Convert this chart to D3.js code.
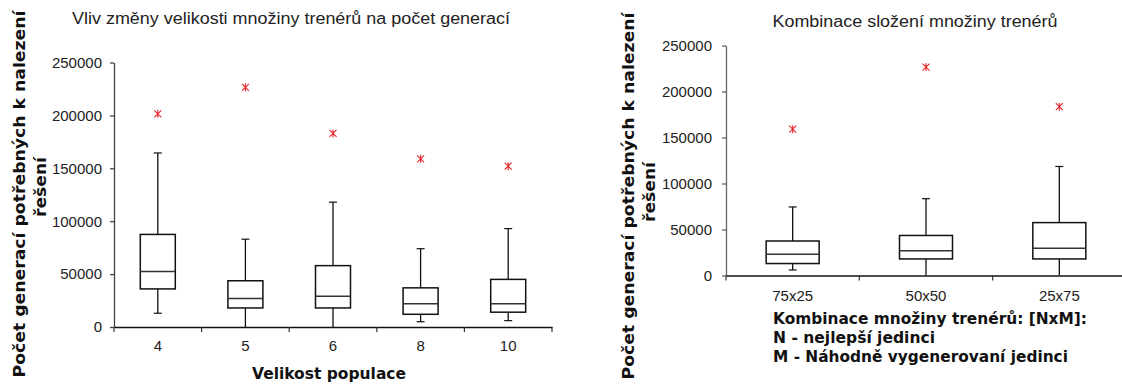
<!DOCTYPE html>
<html>
<head>
<meta charset="utf-8">
<script src="https://cdn.jsdelivr.net/npm/d3@7"></script>
<style>
  body { margin: 0; background: #fff; }
  text { font-family: "Liberation Sans", Arial, sans-serif; fill: #222; }
  .title { font-size: 16px; }
  .tick text { font-size: 15px; }
  .label { font-family: "DejaVu Sans", sans-serif; font-size: 16px; font-weight: bold; fill: #111; }
</style>
</head>
<body>
<script>
// left chart - velikost populace
const popCategories = ['4', '5', '6', '8', '10'];
const popMin = [13000, 0, 0, 5000, 6000];
const popQ1 = [36000, 18000, 18000, 12000, 14000];
const popMedian = [52500, 27000, 29000, 22000, 22000];
const popQ3 = [87500, 43700, 58000, 37000, 45000];
const popMax = [164500, 83000, 118000, 74000, 93000];
const popOutlier = [201500, 226500, 183000, 159000, 152000];

// right chart - kombinace NxM
const mixCategories = ['75x25', '50x50', '25x75'];
const mixMin = [6000, 0, 0];
const mixQ1 = [13000, 18000, 18000];
const mixMedian = [23000, 27000, 29500];
const mixQ3 = [37500, 43500, 57500];
const mixMax = [74500, 83500, 118500];
const mixOutlier = [159000, 226500, 183500];

const yTicks = [0, 50000, 100000, 150000, 200000, 250000];

const svg = d3.select('body').append('svg')
    .attr('width', 1122)
    .attr('height', 385);

function boxChart(opt) {
    const x = d3.scaleBand().domain(opt.cats).range([opt.x0, opt.x1]);
    const y = d3.scaleLinear().domain([0, 250000]).range([opt.y0, opt.y1]);
    const g = svg.append('g');

    const yAxis = g.append('g')
        .attr('transform', `translate(${opt.x0},0)`)
        .call(d3.axisLeft(y).tickValues(yTicks).tickSize(4).tickSizeOuter(0).tickFormat(d3.format('d')));
    yAxis.selectAll('line, path').attr('stroke', opt.axisColor).attr('stroke-width', 1.3);
    yAxis.selectAll('text').attr('x', -opt.labelGap).attr('fill', '#222');

    const xAxis = g.append('g')
        .attr('transform', `translate(0,${opt.y0})`)
        .call(d3.axisBottom(x).tickSize(0).tickPadding(opt.tickPad));
    xAxis.select('path').attr('stroke', '#111').attr('stroke-width', 1.5);
    xAxis.selectAll('text').attr('fill', '#222');
    // tick marks sit between the categories
    const bounds = opt.cats.map(c => x(c)).concat([opt.x1]);
    g.selectAll('.sep').data(bounds).enter().append('line')
        .attr('x1', d => d).attr('x2', d => d)
        .attr('y1', opt.y0).attr('y2', opt.y0 + 5)
        .attr('stroke', '#333').attr('stroke-width', 1.2);

    const bw = opt.boxWidth;
    opt.cats.forEach((c, i) => {
        const cx = x(c) + x.bandwidth() / 2;
        // whiskers
        g.append('line').attr('x1', cx).attr('x2', cx)
            .attr('y1', y(opt.max[i])).attr('y2', y(opt.q3[i]))
            .attr('stroke', '#111').attr('stroke-width', 1.3);
        g.append('line').attr('x1', cx).attr('x2', cx)
            .attr('y1', y(opt.q1[i])).attr('y2', y(opt.min[i]))
            .attr('stroke', '#111').attr('stroke-width', 1.3);
        g.append('line').attr('x1', cx - 4).attr('x2', cx + 4)
            .attr('y1', y(opt.max[i])).attr('y2', y(opt.max[i]))
            .attr('stroke', '#111').attr('stroke-width', 1.2);
        if (opt.min[i] > 0) {
            g.append('line').attr('x1', cx - 4).attr('x2', cx + 4)
                .attr('y1', y(opt.min[i])).attr('y2', y(opt.min[i]))
                .attr('stroke', '#111').attr('stroke-width', 1.2);
        }
        // box
        g.append('rect')
            .attr('x', cx - bw / 2).attr('y', y(opt.q3[i]))
            .attr('width', bw).attr('height', y(opt.q1[i]) - y(opt.q3[i]))
            .attr('fill', 'none').attr('stroke', '#111').attr('stroke-width', 1.5);
        g.append('line').attr('x1', cx - bw / 2).attr('x2', cx + bw / 2)
            .attr('y1', y(opt.median[i])).attr('y2', y(opt.median[i]))
            .attr('stroke', '#333').attr('stroke-width', 1.5);
        // outlier asterisk
        const oy = y(opt.outlier[i]);
        const s = 3.5;
        g.append('path')
            .attr('d', `M${cx - s},${oy - s}L${cx + s},${oy + s}M${cx - s},${oy + s}L${cx + s},${oy - s}M${cx},${oy - s - 0.5}L${cx},${oy + s + 0.5}`)
            .attr('stroke', '#e8262b').attr('stroke-width', 1.1).attr('fill', 'none');
    });

    g.append('text').attr('class', 'title')
        .text(opt.title)
        .attr('x', opt.titleX).attr('y', opt.titleY)
        .attr('text-anchor', 'middle')
        .attr('textLength', opt.titleLen)
        .attr('lengthAdjust', 'spacingAndGlyphs');

    // y label, two lines
    g.append('text').attr('class', 'label')
        .text('Počet generací potřebných k nalezení')
        .attr('transform', `translate(${opt.labX1},${opt.labY1}) rotate(-90)`)
        .attr('text-anchor', 'middle')
        .attr('dominant-baseline', 'central')
        .attr('textLength', 367)
        .attr('lengthAdjust', 'spacingAndGlyphs');
    g.append('text').attr('class', 'label')
        .text('řešení')
        .attr('transform', `translate(${opt.labX2},${opt.labY2}) rotate(-90)`)
        .attr('text-anchor', 'middle')
        .attr('dominant-baseline', 'central')
        .attr('textLength', 60)
        .attr('lengthAdjust', 'spacingAndGlyphs');
}

boxChart({
    cats: popCategories, min: popMin, q1: popQ1, median: popMedian, q3: popQ3, max: popMax, outlier: popOutlier,
    x0: 114, x1: 552, y0: 327, y1: 62.5, boxWidth: 35, tickPad: 13, labelGap: 12,
    axisColor: '#444',
    title: 'Vliv změny velikosti množiny trenérů na počet generací', titleX: 291, titleY: 24, titleLen: 438,
    labX1: 19, labY1: 194, labX2: 40, labY2: 187
});

boxChart({
    cats: mixCategories, min: mixMin, q1: mixQ1, median: mixMedian, q3: mixQ3, max: mixMax, outlier: mixOutlier,
    x0: 726, x1: 1126, y0: 275.5, y1: 45.5, boxWidth: 53, tickPad: 15, labelGap: 14,
    axisColor: '#666',
    title: 'Kombinace složení množiny trenérů', titleX: 915, titleY: 27, titleLen: 285,
    labX1: 628, labY1: 196, labX2: 649, labY2: 192
});

// left x title
svg.append('text').attr('class', 'label')
    .text('Velikost populace')
    .attr('x', 329).attr('y', 379)
    .attr('text-anchor', 'middle')
    .attr('textLength', 154)
    .attr('lengthAdjust', 'spacingAndGlyphs')
    .style('font-size', '15px');

// right x title, three lines
const mixLines = ['Kombinace množiny trenérů: [NxM]:', 'N - nejlepší jedinci', 'M - Náhodně vygenerovaní jedinci'];
const mixLineLen = [314, 162, 295];
svg.append('g').selectAll('text').data(mixLines).enter().append('text')
    .attr('class', 'label')
    .text(d => d)
    .attr('x', 773)
    .attr('y', (d, i) => 324 + i * 19)
    .attr('textLength', (d, i) => mixLineLen[i])
    .attr('lengthAdjust', 'spacingAndGlyphs')
    .style('font-size', '15px');
</script>
</body>
</html>
